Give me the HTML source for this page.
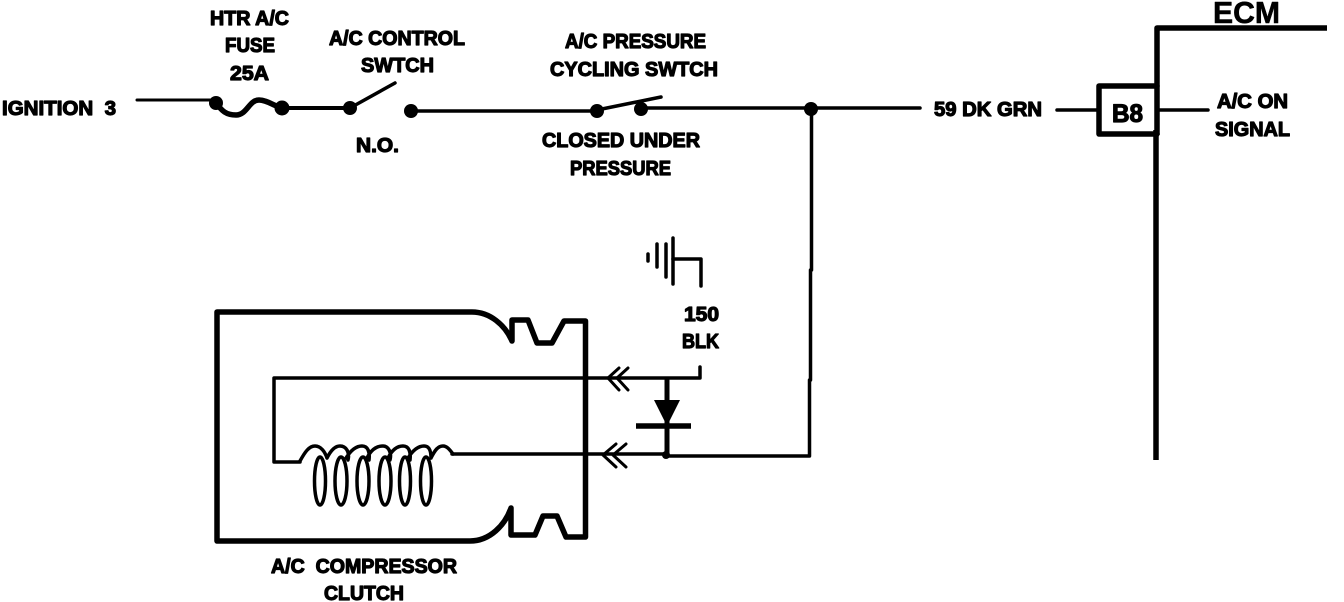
<!DOCTYPE html>
<html>
<head>
<meta charset="utf-8">
<style>
html,body{margin:0;padding:0;background:#fff;width:1344px;height:602px;overflow:hidden}
svg{display:block}
text{font-family:"Liberation Sans",sans-serif;font-weight:bold;fill:#000;stroke:#000;stroke-width:1.2px;stroke-linejoin:round;white-space:pre}
.w{fill:none;stroke:#000;stroke-linejoin:round;stroke-linecap:round}
</style>
</head>
<body>
<svg width="1344" height="602" viewBox="0 0 1344 602" xmlns="http://www.w3.org/2000/svg">
<!-- top run -->
<path class="w" stroke-width="3" d="M137 100H216"/>
<path class="w" stroke-width="5.5" d="M216 103C222 111 226 115 236 115C247 115 249 100 259 100C267 100 274 106 282 108"/>
<path class="w" stroke-width="4" d="M282 108H350"/>
<path class="w" stroke-width="3.5" d="M350 108L395 83"/>
<path class="w" stroke-width="3.5" d="M411 111H597"/>
<path class="w" stroke-width="3.5" d="M597 110L661 97"/>
<path class="w" stroke-width="3.5" d="M641 108H920"/>
<path class="w" stroke-width="3.5" d="M811.5 109V270M810.5 270V380M809.5 380V456H667"/>
<circle cx="216" cy="103" r="7"/><circle cx="282" cy="108" r="7.5"/>
<circle cx="350" cy="108" r="7"/><circle cx="411" cy="111" r="7"/>
<circle cx="597" cy="111" r="7"/><circle cx="641" cy="109" r="7"/>
<circle cx="811" cy="109" r="7"/>
<!-- ECM -->
<path class="w" stroke-width="5.5" style="stroke-linecap:butt" d="M1327 28H1157V135"/>
<path class="w" stroke-width="5.5" style="stroke-linecap:butt" d="M1156 130V460"/>
<path class="w" stroke-width="5.5" d="M1157 86H1099V134H1157"/>
<path class="w" stroke-width="3.5" d="M1057 110H1098M1157 110H1208"/>
<!-- ground -->
<path class="w" stroke-width="3.5" d="M648 254V261M657 244V267M666 244V277M673 238V284"/>
<path class="w" stroke-width="3.5" d="M673 259H701V286"/>
<!-- wires -->
<path class="w" stroke-width="3.5" d="M700 367V378H274V462H300"/>
<path class="w" stroke-width="3.5" d="M452 454H667"/>
<path class="w" stroke-width="5" d="M667 380V456"/>
<path d="M654 400H680L667 426Z"/>
<path class="w" stroke-width="5.5" style="stroke-linecap:butt" d="M636 426H691"/>
<circle cx="666" cy="455" r="4"/>
<path class="w" stroke-width="3" d="M619 368L608 378L619 390M628 368L617 378L628 390"/>
<path class="w" stroke-width="3" d="M616 444L603 455L616 467M626 444L613 455L626 467"/>
<!-- clutch -->
<path class="w" stroke-width="5.5" d="M512 341C505 325 490 312 472 312H217V541H470C490 541 505 525 511 508V535H535L543 516H557L566 537H585.5V321H564L552 343H537L528 320H512V341Z"/>
<!-- coil -->
<path class="w" stroke-width="3.5" d="M300 461C305 452 309 446 315 446C321 446 325 452 327 458M327 458C331 450 335 446 340 446C346 446 350 452 348 460M346 458C351 450 356 446 362 446C368 446 370 452 369 460M367 458C371 450 376 446 383 446C388 446 392 452 390 460M388 458C392 450 397 446 403 446C409 446 411 452 410 460M408 458C413 450 418 446 424 446C430 446 431 452 431 458M431 458C435 450 438 446 443 446C447 446 450 450 453 454"/>
<ellipse class="w" stroke-width="3.5" cx="320" cy="481" rx="5.5" ry="24"/>
<ellipse class="w" stroke-width="3.5" cx="341" cy="481" rx="6" ry="24"/>
<ellipse class="w" stroke-width="3.5" cx="363" cy="481" rx="6" ry="24"/>
<ellipse class="w" stroke-width="3.5" cx="385" cy="481" rx="6" ry="24"/>
<ellipse class="w" stroke-width="3.5" cx="405" cy="481" rx="5.5" ry="24"/>
<ellipse class="w" stroke-width="3.5" cx="426" cy="481" rx="5.5" ry="24"/>
<!-- text -->
<g font-size="20">
<text x="2" y="115" textLength="114" lengthAdjust="spacingAndGlyphs" xml:space="preserve">IGNITION  3</text>
<text x="210" y="25" textLength="79" lengthAdjust="spacingAndGlyphs">HTR A/C</text>
<text x="225" y="52" textLength="50" lengthAdjust="spacingAndGlyphs">FUSE</text>
<text x="230" y="80" textLength="39" lengthAdjust="spacingAndGlyphs">25A</text>
<text x="329" y="45" textLength="136" lengthAdjust="spacingAndGlyphs">A/C CONTROL</text>
<text x="361" y="72" textLength="73" lengthAdjust="spacingAndGlyphs">SWTCH</text>
<text x="356" y="152" textLength="43" lengthAdjust="spacingAndGlyphs">N.O.</text>
<text x="565" y="48" textLength="141" lengthAdjust="spacingAndGlyphs">A/C PRESSURE</text>
<text x="550" y="76" textLength="168" lengthAdjust="spacingAndGlyphs">CYCLING SWTCH</text>
<text x="542" y="147" textLength="158" lengthAdjust="spacingAndGlyphs">CLOSED UNDER</text>
<text x="570" y="175" textLength="101" lengthAdjust="spacingAndGlyphs">PRESSURE</text>
<text x="934" y="116" textLength="108" lengthAdjust="spacingAndGlyphs">59 DK GRN</text>
<text x="1217" y="108" textLength="71" lengthAdjust="spacingAndGlyphs">A/C ON</text>
<text x="1215" y="136" textLength="75" lengthAdjust="spacingAndGlyphs">SIGNAL</text>
<text x="684" y="321" textLength="35" lengthAdjust="spacingAndGlyphs">150</text>
<text x="682" y="348" textLength="37" lengthAdjust="spacingAndGlyphs">BLK</text>
<text x="271" y="573" textLength="186" lengthAdjust="spacingAndGlyphs" xml:space="preserve">A/C  COMPRESSOR</text>
<text x="324" y="600" textLength="80" lengthAdjust="spacingAndGlyphs">CLUTCH</text>
</g>
<text x="1112" y="122" font-size="25" textLength="31" lengthAdjust="spacingAndGlyphs">B8</text>
<text x="1213" y="23" font-size="31" textLength="67" lengthAdjust="spacingAndGlyphs" style="stroke-width:.6px">ECM</text>
</svg>
</body>
</html>
